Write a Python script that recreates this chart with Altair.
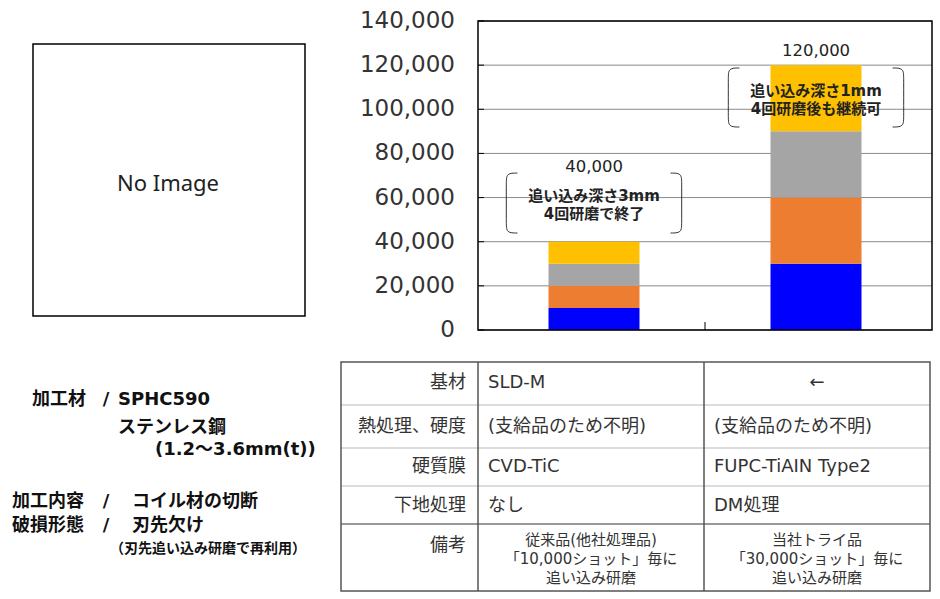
import altair as alt
import pandas as pd

# ---------------- data ----------------
tools = ["従来品", "当社トライ品"]
stages = ["1回目", "2回目", "3回目", "4回目"]
shots_conventional = [10000, 10000, 10000, 10000]
shots_trial = [30000, 30000, 30000, 30000]
totals = [40000, 120000]
y_ticks = [0, 20000, 40000, 60000, 80000, 100000, 120000, 140000]
note_texts = ["追い込み深さ3mm\n4回研磨で終了", "追い込み深さ1mm\n4回研磨後も継続可"]
stage_colors = ["#0000FF", "#ED7D31", "#A5A5A5", "#FFC000"]

row_labels = ["基材", "熱処理、硬度", "硬質膜", "下地処理", "備考"]
col_conventional = ["SLD-M", "(支給品のため不明)", "CVD-TiC", "なし",
                    "従来品(他社処理品)\n「10,000ショット」毎に\n追い込み研磨"]
col_trial = ["←", "(支給品のため不明)", "FUPC-TiAIN Type2", "DM処理",
             "当社トライ品\n「30,000ショット」毎に\n追い込み研磨"]

side_heads = ["加工材", "加工内容", "破損形態"]
side_values = ["SPHC590", "コイル材の切断", "刃先欠け"]
side_subs = ["ステンレス鋼", "(1.2〜3.6mm(t))", "（刃先追い込み研磨で再利用）"]
placeholder_text = "No Image"

# ---------------- layout / style ----------------
FONT = "DejaVu Sans, Noto Sans CJK JP"
xs = alt.Scale(domain=[-0.5, 1.5], range=[478, 932], nice=False, zero=False)
ys = alt.Scale(domain=[0, 140000], range=[330, 21], nice=False)
BAR_SIZE = 91
TOTAL_LABEL_Y = [73850, 126500]
NOTE_Y = [60700, 108300]          # anchor of the first text line
BRACKET_TOP = [71100, 118700]
BRACKET_BOTTOM = [43950, 91980]
BR_HALF = 0.395
BR_STUB = 0.05
BR_CORNER = 4300

series = [shots_conventional, shots_trial]
bar_rows = []
for i, t in enumerate(tools):
    for j, s in enumerate(stages):
        bar_rows.append({"tool": t, "pos": i, "stage": s, "ord": j, "shots": series[i][j]})
bar_df = pd.DataFrame(bar_rows)

tick_df = pd.DataFrame({"v": y_ticks})
tot_df = pd.DataFrame({"pos": list(range(len(tools))), "total": totals, "ty": TOTAL_LABEL_Y})
note_df = pd.DataFrame({"pos": list(range(len(tools))), "note": note_texts, "ny": NOTE_Y})

br_rows = []
for k in range(len(tools)):
    yt, yb = BRACKET_TOP[k], BRACKET_BOTTOM[k]
    for side, sgn in (("L", -1), ("R", 1)):
        xe = k + sgn * BR_HALF
        xi = xe - sgn * BR_STUB
        pts = [(xi, yt), (xe, yt), (xe, yt - BR_CORNER), (xe, yb + BR_CORNER), (xe, yb), (xi, yb)]
        for n, (bx, by) in enumerate(pts):
            br_rows.append({"g": f"{k}{side}", "i": n, "bx": bx, "by": by})
br_df = pd.DataFrame(br_rows)

one = pd.DataFrame({"a": [0]})

# ---------------- bar chart ----------------
grid = alt.Chart(tick_df).mark_rule(color="#8a8a8a", strokeWidth=1).encode(
    y=alt.Y("v:Q", scale=ys, axis=None), x=alt.value(478), x2=alt.value(932))
inner_ticks = alt.Chart(tick_df).mark_rule(color="black", strokeWidth=1).encode(
    y=alt.Y("v:Q", scale=ys, axis=None), x=alt.value(478), x2=alt.value(484))
ylabels = alt.Chart(tick_df).mark_text(align="right", baseline="middle", font="DejaVu Sans",
                                       fontSize=23, color="#333333").encode(
    y=alt.Y("v:Q", scale=ys, axis=None), x=alt.value(455), text=alt.Text("v:Q", format=","))
bars = alt.Chart(bar_df).mark_bar(size=BAR_SIZE).encode(
    x=alt.X("pos:Q", scale=xs, axis=None),
    y=alt.Y("shots:Q", stack="zero", scale=ys, axis=None),
    color=alt.Color("stage:N", scale=alt.Scale(domain=stages, range=stage_colors), legend=None),
    order=alt.Order("ord:Q"))
frame = alt.Chart(one).mark_rect(fill="transparent", stroke="black", strokeWidth=1.5).encode(
    x=alt.value(478), x2=alt.value(932), y=alt.value(21), y2=alt.value(330))
mid_tick = alt.Chart(pd.DataFrame({"b": [0.5]})).mark_rule(color="black", strokeWidth=1).encode(
    x=alt.X("b:Q", scale=xs, axis=None), y=alt.value(322), y2=alt.value(330))
tot_labels = alt.Chart(tot_df).mark_text(font="DejaVu Sans", fontSize=16.5, color="#222222",
                                         baseline="middle").encode(
    x=alt.X("pos:Q", scale=xs, axis=None), y=alt.Y("ty:Q", scale=ys, axis=None),
    text=alt.Text("total:Q", format=","))
notes = alt.Chart(note_df).mark_text(font=FONT, fontSize=15, fontWeight="bold", color="#222222",
                                     baseline="middle", lineBreak="\n", lineHeight=18).encode(
    x=alt.X("pos:Q", scale=xs, axis=None), y=alt.Y("ny:Q", scale=ys, axis=None), text="note:N")
brackets = alt.Chart(br_df).mark_line(color="#333333", strokeWidth=1, interpolate="basis").encode(
    x=alt.X("bx:Q", scale=xs, axis=None), y=alt.Y("by:Q", scale=ys, axis=None),
    detail="g:N", order=alt.Order("i:Q"))

# ---------------- placeholder image ----------------
ph_box = alt.Chart(one).mark_rect(fill="white", stroke="black", strokeWidth=1.5).encode(
    x=alt.value(33), x2=alt.value(305), y=alt.value(44), y2=alt.value(316))
ph_text = alt.Chart(pd.DataFrame({"t": [placeholder_text]})).mark_text(
    font="Noto Sans", fontSize=22, color="#222222", baseline="middle").encode(
    x=alt.value(168), y=alt.value(184), text="t:N")

# ---------------- side notes ----------------
side_rows = [
    (side_heads[0], 86, 400, "right", 18), ("/", 106, 400, "center", 18), (side_values[0], 118, 400, "left", 18),
    (side_subs[0], 118, 428, "left", 18), (side_subs[1], 155, 450, "left", 18),
    (side_heads[1], 84, 502, "right", 18), ("/", 106, 502, "center", 18), (side_values[1], 132, 502, "left", 18),
    (side_heads[2], 84, 526, "right", 18), ("/", 106, 526, "center", 18), (side_values[2], 132, 526, "left", 18),
    (side_subs[2], 110, 549, "left", 14),
]
side_df = pd.DataFrame(side_rows, columns=["t", "px", "py", "al", "fs"])
side_layers = []
for al in ["left", "center", "right"]:
    side_layers.append(
        alt.Chart(side_df[side_df.al == al]).mark_text(
            align=al, baseline="middle", font=FONT, fontWeight="bold", color="#111111").encode(
            x=alt.X("px:Q", scale=None, axis=None), y=alt.Y("py:Q", scale=None, axis=None),
            size=alt.Size("fs:Q", scale=None, legend=None), text="t:N"))

# ---------------- table ----------------
ROW_B = [362, 405, 448, 486, 524, 591]
COL_B = [341, 478, 704, 930]
ROW_C = [383, 427, 467, 506, 540]   # first text line of each row
LABEL_Y = [383, 427, 467, 506, 546]
hl = pd.DataFrame({"y": ROW_B[1:4]})
light_lines = alt.Chart(hl).mark_rule(color="#dcdcdc", strokeWidth=2).encode(
    y=alt.Y("y:Q", scale=None, axis=None), x=alt.value(COL_B[0]), x2=alt.value(COL_B[3]))
dark_h = alt.Chart(pd.DataFrame({"y": [ROW_B[4]]})).mark_rule(color="#333333", strokeWidth=1.2).encode(
    y=alt.Y("y:Q", scale=None, axis=None), x=alt.value(COL_B[0]), x2=alt.value(COL_B[3]))
vl = pd.DataFrame({"x": COL_B[1:3]})
dark_v = alt.Chart(vl).mark_rule(color="#555555", strokeWidth=1.5).encode(
    x=alt.X("x:Q", scale=None, axis=None), y=alt.value(ROW_B[0]), y2=alt.value(ROW_B[5]))
tbl_frame = alt.Chart(one).mark_rect(fill="transparent", stroke="#555555", strokeWidth=1.5).encode(
    x=alt.value(COL_B[0]), x2=alt.value(COL_B[3]), y=alt.value(ROW_B[0]), y2=alt.value(ROW_B[5]))

cells = []
for i, lab in enumerate(row_labels):
    cells.append((lab, 466, LABEL_Y[i], "right", 18))
    for c, txt in ((1, col_conventional[i]), (2, col_trial[i])):
        if "\n" in txt or txt == "←":
            cells.append((txt, (COL_B[c] + COL_B[c + 1]) / 2, ROW_C[i], "center", 15 if "\n" in txt else 18))
        else:
            cells.append((txt, COL_B[c] + 10, ROW_C[i], "left", 18))
cell_df = pd.DataFrame(cells, columns=["t", "px", "py", "al", "fs"])
cell_layers = []
for al in ["left", "center", "right"]:
    cell_layers.append(
        alt.Chart(cell_df[cell_df.al == al]).mark_text(
            align=al, baseline="middle", font=FONT, color="#333333", lineBreak="\n", lineHeight=19).encode(
            x=alt.X("px:Q", scale=None, axis=None), y=alt.Y("py:Q", scale=None, axis=None),
            size=alt.Size("fs:Q", scale=None, legend=None), text="t:N"))

chart = alt.layer(
    grid, bars, inner_ticks, frame, mid_tick, ylabels, tot_labels, brackets, notes,
    ph_box, ph_text, *side_layers,
    light_lines, dark_h, dark_v, tbl_frame, *cell_layers,
).properties(
    width=940, height=599, padding=0,
    autosize=alt.AutoSizeParams(type="none"), background="white",
).configure_view(stroke="transparent")

chart.save("out.html", embed_options={"renderer": "svg", "actions": False})
